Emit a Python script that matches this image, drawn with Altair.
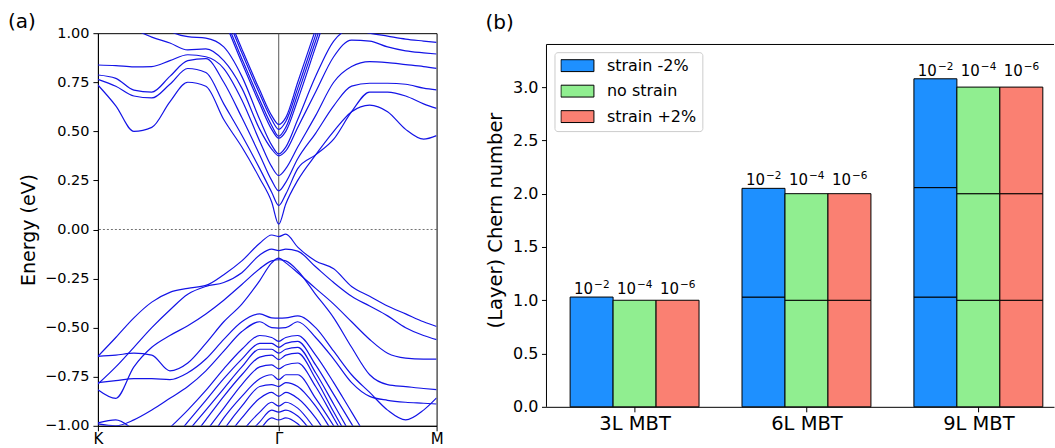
import altair as alt
import pandas as pd

FONT = "DejaVu Sans"

# ---------------- panel (a): band structure ----------------
k_grid = [0.000, 0.099, 0.199, 0.298, 0.398, 0.497, 0.597, 0.696, 0.796, 0.895,
          0.961, 1.000, 1.039, 1.105, 1.204, 1.304, 1.403, 1.503, 1.602, 1.702,
          1.801, 1.873]
k_ticks = [0.0, 1.0, 1.873]
k_labels = ["K", "Γ", "M"]
energy_ticks = [-1.0, -0.75, -0.5, -0.25, 0.0, 0.25, 0.5, 0.75, 1.0]
energy_range = [-1.0, 1.0]
fermi_level = [0.0]
panel_labels = ["(a)", "(b)"]

# conduction bands (eV) at k_grid
cb1 = [0.736, 0.63, 0.50, 0.52, 0.65, 0.75, 0.73, 0.56, 0.42, 0.26, 0.14, 0.027, 0.13, 0.25, 0.38, 0.50, 0.60, 0.634, 0.60, 0.51, 0.46, 0.478]
cb2 = [0.765, 0.73, 0.68, 0.67, 0.74, 0.82, 0.80, 0.64, 0.48, 0.31, 0.19, 0.122, 0.18, 0.31, 0.38, 0.46, 0.60, 0.70, 0.70, 0.68, 0.64, 0.617]
cb3 = [0.787, 0.77, 0.71, 0.70, 0.78, 0.86, 0.87, 0.75, 0.57, 0.38, 0.25, 0.197, 0.24, 0.36, 0.49, 0.63, 0.73, 0.745, 0.745, 0.74, 0.72, 0.711]
cb4 = [0.838, 0.835, 0.828, 0.83, 0.86, 0.89, 0.88, 0.82, 0.66, 0.45, 0.32, 0.275, 0.31, 0.42, 0.58, 0.75, 0.83, 0.855, 0.85, 0.84, 0.83, 0.821]
cb5 = [1.10, 1.06, 1.02, 0.98, 0.95, 0.915, 0.92, 0.86, 0.72, 0.51, 0.41, 0.375, 0.40, 0.52, 0.70, 0.88, 0.965, 0.96, 0.93, 0.91, 0.90, 0.894]
cb6 = [1.25, 1.20, 1.15, 1.08, 1.01, 0.982, 0.975, 0.93, 0.78, 0.56, 0.43, 0.385, 0.42, 0.56, 0.78, 0.96, 1.02, 1.00, 0.985, 0.97, 0.96, 0.953]
cb7 = [1.60, 1.60, 1.60, 1.60, 1.55, 1.42, 1.26, 1.07, 0.85, 0.64, 0.51, 0.465, 0.50, 0.66, 0.93, 1.20, 1.40, 1.50, 1.55, 1.60, 1.60, 1.60]
cb8 = [1.60, 1.60, 1.60, 1.60, 1.57, 1.45, 1.28, 1.09, 0.87, 0.66, 0.53, 0.475, 0.52, 0.69, 0.96, 1.23, 1.42, 1.52, 1.57, 1.60, 1.60, 1.60]
cb9 = [1.60, 1.60, 1.60, 1.60, 1.60, 1.50, 1.32, 1.12, 0.90, 0.69, 0.56, 0.510, 0.55, 0.72, 0.99, 1.26, 1.45, 1.55, 1.60, 1.60, 1.60, 1.60]
cb10 = [1.60, 1.60, 1.60, 1.60, 1.60, 1.52, 1.34, 1.14, 0.92, 0.71, 0.58, 0.535, 0.57, 0.75, 1.02, 1.30, 1.48, 1.58, 1.60, 1.60, 1.60, 1.60]

# valence bands (eV) at k_grid
vb1 = [-0.646, -0.55, -0.45, -0.37, -0.32, -0.30, -0.285, -0.23, -0.16, -0.07, -0.028, -0.036, -0.024, -0.09, -0.16, -0.20, -0.29, -0.34, -0.39, -0.43, -0.47, -0.494]
vb2 = [-0.787, -0.70, -0.60, -0.50, -0.41, -0.33, -0.29, -0.27, -0.22, -0.13, -0.10, -0.108, -0.10, -0.11, -0.19, -0.27, -0.34, -0.39, -0.44, -0.50, -0.54, -0.561]
vb3 = [-0.646, -0.64, -0.63, -0.64, -0.72, -0.68, -0.58, -0.47, -0.38, -0.26, -0.17, -0.146, -0.17, -0.22, -0.30, -0.38, -0.47, -0.56, -0.63, -0.655, -0.66, -0.660]
vb4 = [-0.816, -0.86, -0.70, -0.60, -0.54, -0.49, -0.43, -0.36, -0.28, -0.20, -0.16, -0.154, -0.16, -0.21, -0.33, -0.45, -0.60, -0.74, -0.79, -0.80, -0.81, -0.816]
vb5 = [-0.780, -0.77, -0.76, -0.76, -0.765, -0.73, -0.66, -0.56, -0.47, -0.43, -0.45, -0.451, -0.45, -0.44, -0.50, -0.62, -0.74, -0.83, -0.92, -0.97, -0.92, -0.858]
vb6 = [-0.99, -1.00, -0.97, -0.92, -0.86, -0.80, -0.72, -0.62, -0.52, -0.47, -0.50, -0.502, -0.50, -0.47, -0.55, -0.66, -0.78, -0.85, -0.87, -0.88, -0.885, -0.889]
vb7 = [-0.985, -0.97, -1.02, -1.08, -1.15, -1.20, -1.25, -1.30, -1.30, -1.30, -1.30, -1.30, -1.30, -1.30, -1.30, -1.30, -1.30, -1.30, -1.30, -1.30, -1.30, -1.30]
vs1 = [-1.30, -1.25, -1.18, -1.10, -1.01, -0.92, -0.82, -0.71, -0.61, -0.54, -0.55, -0.570, -0.55, -0.54, -0.64, -0.78, -0.93, -1.08, -1.20, -1.30, -1.30, -1.30]
vs2 = [-1.40, -1.35, -1.28, -1.19, -1.09, -0.98, -0.87, -0.76, -0.66, -0.58, -0.58, -0.600, -0.58, -0.57, -0.69, -0.84, -0.99, -1.14, -1.25, -1.35, -1.40, -1.40]
vs3 = [-1.50, -1.45, -1.38, -1.28, -1.15, -1.03, -0.92, -0.81, -0.70, -0.61, -0.61, -0.630, -0.61, -0.60, -0.73, -0.89, -1.05, -1.20, -1.30, -1.40, -1.45, -1.50]
vs4 = [-1.50, -1.50, -1.45, -1.35, -1.22, -1.09, -0.97, -0.85, -0.74, -0.65, -0.64, -0.663, -0.64, -0.63, -0.76, -0.93, -1.09, -1.25, -1.35, -1.45, -1.50, -1.50]
vs5 = [-1.60, -1.55, -1.50, -1.42, -1.30, -1.16, -1.03, -0.91, -0.79, -0.70, -0.69, -0.710, -0.69, -0.68, -0.80, -0.96, -1.12, -1.28, -1.40, -1.50, -1.55, -1.60]
vs6 = [-1.60, -1.60, -1.55, -1.48, -1.38, -1.24, -1.10, -0.96, -0.85, -0.76, -0.74, -0.765, -0.74, -0.74, -0.86, -1.00, -1.15, -1.30, -1.45, -1.55, -1.60, -1.60]
vs7 = [-1.60, -1.60, -1.60, -1.55, -1.45, -1.30, -1.16, -1.02, -0.90, -0.80, -0.79, -0.800, -0.78, -0.80, -0.90, -1.04, -1.18, -1.32, -1.45, -1.55, -1.60, -1.60]
vs8 = [-1.60, -1.60, -1.60, -1.60, -1.52, -1.37, -1.22, -1.08, -0.96, -0.86, -0.83, -0.850, -0.83, -0.86, -0.96, -1.10, -1.24, -1.38, -1.50, -1.60, -1.60, -1.60]
vs9 = [-1.60, -1.60, -1.60, -1.60, -1.58, -1.44, -1.30, -1.15, -1.03, -0.93, -0.88, -0.900, -0.88, -0.91, -1.02, -1.15, -1.30, -1.44, -1.55, -1.60, -1.60, -1.60]
vs10 = [-1.60, -1.60, -1.60, -1.60, -1.60, -1.50, -1.36, -1.21, -1.08, -0.98, -0.92, -0.930, -0.92, -0.95, -1.06, -1.20, -1.35, -1.50, -1.60, -1.60, -1.60, -1.60]
vs11 = [-1.60, -1.60, -1.60, -1.60, -1.60, -1.55, -1.42, -1.26, -1.12, -1.02, -0.96, -0.970, -0.96, -0.99, -1.10, -1.25, -1.40, -1.55, -1.60, -1.60, -1.60, -1.60]

bands = {
    "c1": cb1, "c2": cb2, "c3": cb3, "c4": cb4, "c5": cb5, "c6": cb6,
    "c7": cb7, "c8": cb8, "c9": cb9, "c10": cb10,
    "v1": vb1, "v2": vb2, "v3": vb3, "v4": vb4, "v5": vb5, "v6": vb6, "v7": vb7,
    "s1": vs1, "s2": vs2, "s3": vs3, "s4": vs4, "s5": vs5, "s6": vs6,
    "s7": vs7, "s8": vs8, "s9": vs9, "s10": vs10, "s11": vs11,
}

band_df = pd.DataFrame(
    [{"band": name, "k": k, "E": e} for name, vals in bands.items() for k, e in zip(k_grid, vals)]
)

k_label_expr = " : ".join(
    f"abs(datum.value - {v}) < 0.01 ? '{lab}'" for v, lab in zip(k_ticks, k_labels)
) + " : ''"

k_scale = alt.Scale(domain=[k_grid[0], k_grid[-1]], nice=False, zero=False)
e_scale = alt.Scale(domain=energy_range, nice=False, zero=False)
k_axis = alt.Axis(values=k_ticks, labelExpr=k_label_expr, title=None, grid=False,
                  tickSize=5, labelPadding=1, labelFontSize=15, labelFlush=False)
e_axis = alt.Axis(values=energy_ticks, format=".2f", title="Energy (eV)", grid=False,
                  tickSize=5, labelPadding=4, labelFontSize=14.5, titleFontSize=19,
                  titleFontWeight="normal", titlePadding=6, labelFlush=False)

gamma_line = alt.Chart(pd.DataFrame({"k": [k_ticks[1]]})).mark_rule(
    color="#444444", strokeWidth=0.9
).encode(x=alt.X("k:Q", scale=k_scale, axis=k_axis))

fermi_line = alt.Chart(pd.DataFrame({"E": fermi_level})).mark_rule(
    color="#333333", strokeWidth=0.7, strokeDash=[2, 2]
).encode(y=alt.Y("E:Q", scale=e_scale, axis=e_axis))

band_lines = alt.Chart(band_df).mark_line(
    interpolate="monotone", clip=True, color="#1414e6", strokeWidth=1.2
).encode(
    x=alt.X("k:Q", scale=k_scale, axis=k_axis),
    y=alt.Y("E:Q", scale=e_scale, axis=e_axis),
    detail="band:N",
)

label_a = alt.Chart(pd.DataFrame({"p": [panel_labels[0]]})).mark_text(
    font=FONT, fontSize=20, align="left", baseline="alphabetic", color="black"
).encode(text="p:N", x=alt.value(-90), y=alt.value(-5))

left = alt.layer(gamma_line, fermi_line, band_lines, label_a).properties(
    width=339, height=393,
    view=alt.ViewBackground(stroke="black", strokeWidth=1),
)

# ---------------- panel (b): Chern numbers ----------------
groups = ["3L MBT", "6L MBT", "9L MBT"]
strains = ["strain -2%", "no strain", "strain +2%"]
strain_colors = ["#1e90ff", "#90ee90", "#fa8072"]
threshold_base = "10"
threshold_exps = ["−2", "−4", "−6"]
tops_minus2 = [[1.03], [1.03, 2.05], [1.03, 2.057, 3.078]]
tops_none = [[1.0], [1.0, 2.0], [1.0, 2.0, 3.0]]
tops_plus2 = [[1.0], [1.0, 2.0], [1.0, 2.0, 3.0]]
tops_by_strain = [tops_minus2, tops_none, tops_plus2]
chern_ticks = [0.0, 0.5, 1.0, 1.5, 2.0, 2.5, 3.0]
bar_width = 0.25
x_limits = [-0.5125, 2.44]
y_limit_top = 3.40
y_view_top = 3.506

seg_rows, lab_rows = [], []
for g, grp in enumerate(groups):
    group_max = max(tops_by_strain[s][g][-1] for s in range(len(strains)))
    for s, strain in enumerate(strains):
        xc = g + (s - 1) * bar_width
        tops = tops_by_strain[s][g]
        bottoms = [0.0] + tops[:-1]
        for b, t in zip(bottoms, tops):
            seg_rows.append({"group": grp, "strain": strain, "xa": xc - bar_width / 2,
                             "xb": xc + bar_width / 2, "ya": b, "yb": t})
        lab_rows.append({"xa": xc, "ya": group_max, "base": threshold_base,
                         "exp": threshold_exps[s]})
seg_df = pd.DataFrame(seg_rows)
lab_df = pd.DataFrame(lab_rows)
frame_df = pd.DataFrame({"xa": [x_limits[0]], "xb": [x_limits[1]], "ya": [0.0], "yb": [y_limit_top]})

group_expr = "[" + ",".join(f"'{g}'" for g in groups) + "][datum.value]"
bx_scale = alt.Scale(domain=x_limits, nice=False, zero=False)
by_scale = alt.Scale(domain=[0, y_view_top], nice=False, zero=False)
bx_axis = alt.Axis(values=[0, 1, 2], labelExpr=group_expr, title=None, grid=False,
                   tickSize=5, labelPadding=3, labelFontSize=19.5, labelFlush=False)
by_axis = alt.Axis(values=chern_ticks, format=".1f", title="(Layer) Chern number",
                   grid=False, domain=False, tickSize=5, labelPadding=3.5,
                   labelFontSize=16, titleFontSize=19.5, titleFontWeight="normal",
                   titlePadding=7.5, labelFlush=False)


def bx(field):
    return alt.X(f"{field}:Q", scale=bx_scale, axis=bx_axis)


def by(field):
    return alt.Y(f"{field}:Q", scale=by_scale, axis=by_axis)


bars = alt.Chart(seg_df).mark_rect(stroke="black", strokeWidth=1).encode(
    x=bx("xa"), x2="xb:Q", y=by("ya"), y2="yb:Q",
    color=alt.Color(
        "strain:N",
        scale=alt.Scale(domain=strains, range=strain_colors),
        legend=alt.Legend(
            orient="none", legendX=457, legendY=19, title=None,
            symbolType="M-1,-0.36H1V0.36H-1Z", symbolSize=1089,
            symbolStrokeColor="black", symbolStrokeWidth=1, symbolOpacity=1,
            labelFont=FONT, labelFontSize=16, labelColor="black", labelOffset=12.5,
            padding=6, rowPadding=8.5, clipHeight=15,
            strokeColor="#cccccc", fillColor="white", cornerRadius=3,
        ),
    ),
)

label_base = alt.Chart(lab_df).mark_text(
    font=FONT, fontSize=15, align="right", baseline="alphabetic", dx=1.5, dy=-3,
    color="black"
).encode(x=bx("xa"), y=by("ya"), text="base:N")

label_exp = alt.Chart(lab_df).mark_text(
    font=FONT, fontSize=10.5, align="left", baseline="alphabetic", dx=2.5, dy=-9,
    color="black"
).encode(x=bx("xa"), y=by("ya"), text="exp:N")

top_spine = alt.Chart(frame_df).mark_rule(color="black", strokeWidth=1).encode(
    x=bx("xa"), x2="xb:Q", y=by("yb")
)
left_spine = alt.Chart(frame_df).mark_rule(color="black", strokeWidth=1).encode(
    x=bx("xa"), y=by("ya"), y2="yb:Q"
)

label_b = alt.Chart(pd.DataFrame({"p": [panel_labels[1]]})).mark_text(
    font=FONT, fontSize=20, align="left", baseline="alphabetic", color="black"
).encode(text="p:N", x=alt.value(-61), y=alt.value(-4))

right = alt.layer(bars, label_base, label_exp, top_spine, left_spine, label_b).properties(
    width=508, height=374,
)

chart = alt.hconcat(left, right, spacing=110, bounds="flush").properties(
    padding={"left": 7, "top": 11, "right": 0, "bottom": 0}
).configure_view(
    stroke="transparent"
).configure_axis(
    labelFont=FONT, titleFont=FONT, labelColor="black", titleColor="black",
    tickColor="black", domainColor="black", tickWidth=1, domainWidth=1
)

chart.save("out.html", embed_options={"renderer": "svg", "actions": False})
